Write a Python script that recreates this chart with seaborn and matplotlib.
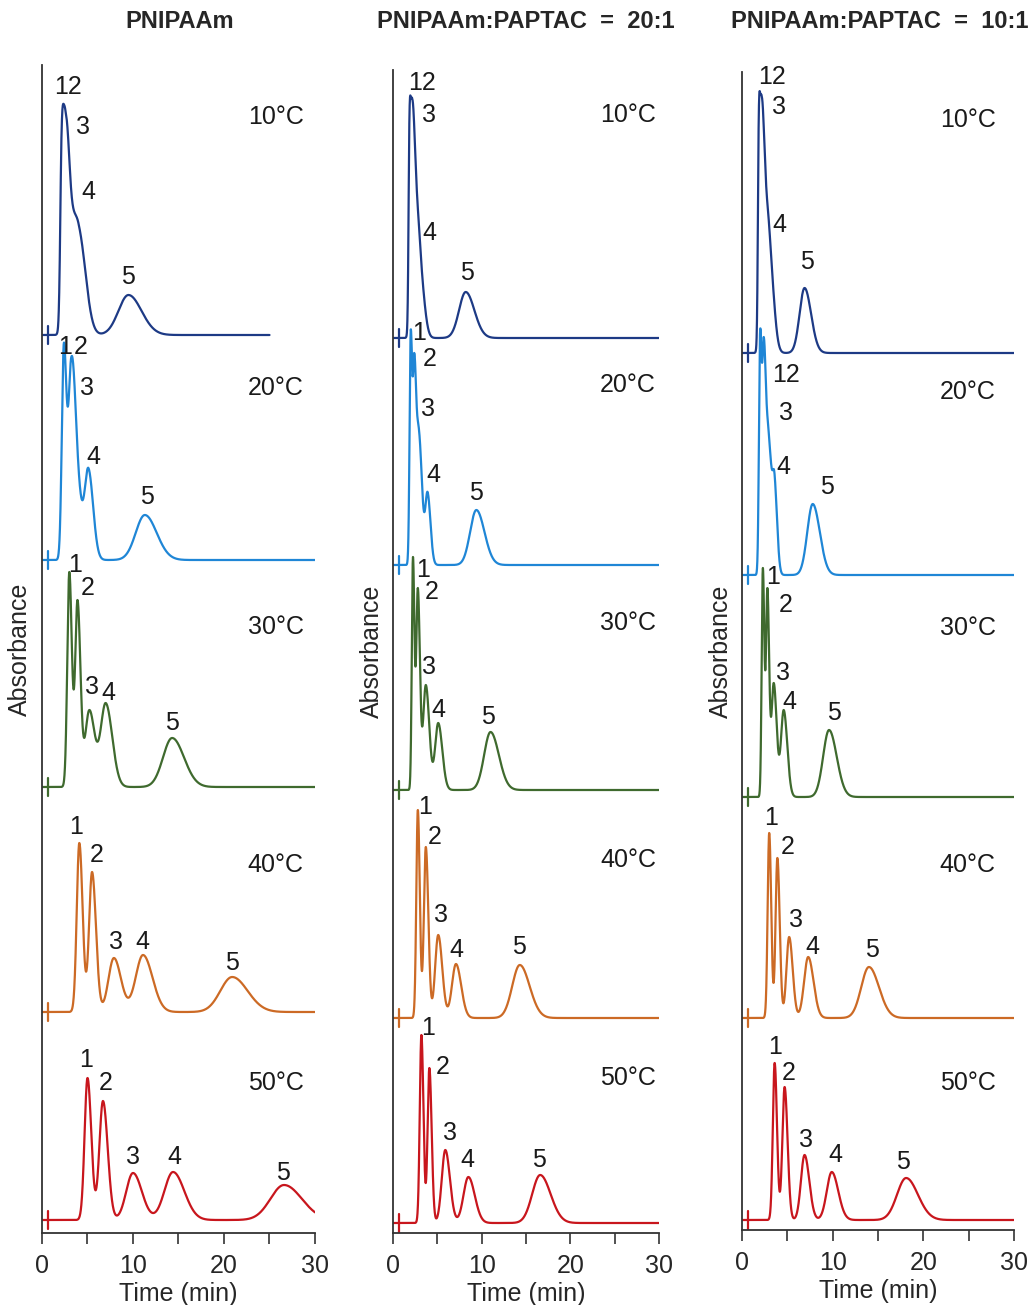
import numpy as np
import pandas as pd
import matplotlib
matplotlib.use("Agg")
import matplotlib.pyplot as plt
import seaborn as sns

# ---- data (times in min, heights in a.u. above each trace baseline) ----
temp_labels = ["10°C", "20°C", "30°C", "40°C", "50°C"]
trace_colors = ["#1d3a85", "#1f86d6", "#3f6a2e", "#cc6a25", "#c8161d"]
column_titles = ["PNIPAAm", "PNIPAAm:PAPTAC  =  20:1", "PNIPAAm:PAPTAC  =  10:1"]

# PNIPAAm
pn_rt = [[2.15, 2.55, 3.1, 4.0, 9.5],
         [2.4, 3.2, 3.8, 5.1, 11.3],
         [3.0, 3.9, 5.2, 7.0, 14.3],
         [4.1, 5.5, 7.9, 11.1, 20.9],
         [5.0, 6.7, 10.0, 14.4, 26.6]]
pn_height = [[20.3, 22.6, 16.0, 11.2, 4.0],
             [21.7, 20.2, 13.0, 9.2, 4.5],
             [21.5, 18.7, 7.7, 8.4, 4.9],
             [16.9, 14.0, 5.4, 5.7, 3.5],
             [14.2, 11.9, 4.7, 4.8, 3.5]]
pn_sigma = [[0.15, 0.28, 0.35, 0.6, 1.1],
            [0.22, 0.3, 0.4, 0.4, 1.0],
            [0.22, 0.25, 0.45, 0.55, 1.0],
            [0.28, 0.33, 0.6, 0.8, 1.3],
            [0.32, 0.4, 0.75, 0.95, 1.5]]
pn_baseline = [89.8, 67.3, 44.6, 22.1, 1.3]
pn_end = [25, 30, 30, 30, 30]
pn_lbl_text = [["12", "3", "4", "5"], ["1", "2", "3", "4", "5"], ["1", "2", "3", "4", "5"],
               ["1", "2", "3", "4", "5"], ["1", "2", "3", "4", "5"]]
pn_lbl_t = [[2.9, 4.5, 5.1, 9.5], [2.5, 4.3, 5.0, 5.6, 11.5], [3.6, 5.0, 5.5, 7.3, 14.3],
            [3.7, 6.0, 8.1, 11.0, 20.9], [4.8, 7.0, 10.0, 14.5, 26.5]]
pn_lbl_y = [[114.6, 110.6, 104.1, 95.6], [88.6, 88.6, 84.5, 77.6, 73.6],
            [66.8, 64.5, 54.6, 54.0, 51.0], [40.6, 37.8, 29.1, 29.1, 27.0],
            [17.3, 15.0, 7.6, 7.6, 6.0]]
pn_temp_t = 25.7
pn_temp_y = [111.6, 84.5, 60.6, 36.8, 15.0]

# PNIPAAm:PAPTAC = 20:1
p20_rt = [[1.85, 2.15, 2.6, 3.1, 8.2],
          [2.0, 2.4, 2.9, 3.9, 9.4],
          [2.25, 2.8, 3.7, 5.1, 11.0],
          [2.8, 3.7, 5.1, 7.1, 14.3],
          [3.2, 4.1, 5.9, 8.5, 16.6]]
p20_height = [[22.0, 24.0, 16.5, 8.8, 4.6],
              [23.5, 21.2, 13.8, 7.3, 5.5],
              [23.3, 20.2, 10.5, 6.7, 5.8],
              [20.8, 17.1, 8.3, 5.4, 5.3],
              [18.8, 15.5, 7.3, 4.6, 4.8]]
p20_sigma = [[0.1, 0.2, 0.25, 0.35, 0.75],
             [0.13, 0.15, 0.28, 0.25, 0.7],
             [0.13, 0.18, 0.3, 0.35, 0.72],
             [0.17, 0.22, 0.35, 0.45, 0.85],
             [0.18, 0.2, 0.4, 0.55, 0.9]]
p20_baseline = [89.5, 66.8, 44.3, 21.5, 1.0]
p20_end = [30, 30, 30, 30, 30]
p20_lbl_text = [["12", "3", "4", "5"], ["1", "2", "3", "4", "5"], ["1", "2", "3", "4", "5"],
                ["1", "2", "3", "4", "5"], ["1", "2", "3", "4", "5"]]
p20_lbl_t = [[3.3, 4.1, 4.1, 8.3], [2.9, 4.1, 3.9, 4.6, 9.4], [3.4, 4.4, 4.1, 5.1, 10.7],
             [3.6, 4.7, 5.4, 7.1, 14.2], [3.9, 5.6, 6.4, 8.4, 16.5]]
p20_lbl_y = [[115.0, 111.8, 100.0, 96.0], [90.0, 87.4, 82.4, 75.8, 74.0],
             [66.3, 64.1, 56.6, 52.3, 51.6], [42.6, 39.6, 31.8, 28.3, 28.6],
             [20.5, 16.6, 10.0, 7.3, 7.3]]
p20_temp_t = 26.5
p20_temp_y = [111.8, 84.8, 61.0, 37.3, 15.5]

# PNIPAAm:PAPTAC = 10:1
p10_rt = [[1.85, 2.15, 2.6, 3.1, 6.9],
          [2.0, 2.4, 2.9, 3.6, 7.8],
          [2.3, 2.8, 3.5, 4.6, 9.6],
          [3.0, 3.9, 5.2, 7.3, 14.0],
          [3.6, 4.7, 6.9, 9.9, 18.1]]
p10_height = [[23.8, 25.8, 18.0, 11.3, 6.5],
              [24.5, 23.8, 14.8, 10.0, 7.1],
              [22.9, 20.9, 11.4, 8.7, 6.7],
              [18.5, 16.0, 8.1, 6.1, 5.1],
              [15.7, 13.3, 6.5, 4.8, 4.2]]
p10_sigma = [[0.1, 0.2, 0.25, 0.35, 0.55],
             [0.13, 0.16, 0.28, 0.22, 0.6],
             [0.13, 0.15, 0.25, 0.3, 0.65],
             [0.17, 0.2, 0.3, 0.45, 0.85],
             [0.2, 0.25, 0.4, 0.55, 1.0]]
p10_baseline = [87.7, 65.5, 43.3, 21.2, 1.0]
p10_end = [30, 30, 30, 30, 30]
p10_lbl_text = [["12", "3", "4", "5"], ["12", "3", "4", "5"], ["1", "2", "3", "4", "5"],
                ["1", "2", "3", "4", "5"], ["1", "2", "3", "4", "5"]]
p10_lbl_t = [[3.3, 4.1, 4.1, 7.2], [4.9, 4.8, 4.6, 9.4], [3.4, 4.8, 4.5, 5.2, 10.1],
             [3.2, 5.0, 6.0, 7.8, 14.3], [3.6, 5.2, 7.1, 10.3, 17.8]]
p10_lbl_y = [[115.3, 112.3, 100.5, 96.8], [85.5, 81.7, 76.3, 74.3],
             [65.3, 62.5, 55.7, 52.8, 51.7], [41.2, 38.3, 31.0, 28.3, 28.0],
             [18.3, 15.7, 9.0, 7.5, 6.8]]
p10_temp_t = 24.9
p10_temp_y = [111.0, 83.8, 60.2, 36.5, 14.7]

INJECT_T = 0.65
TAIL = 1.3  # right-side width factor of each peak


def peak_shape(t, mu, s):
    s_eff = np.where(t < mu, s, s * TAIL)
    return np.exp(-0.5 * ((t - mu) / s_eff) ** 2)


def trace(rt, heights, sigmas, t_end):
    rt = np.asarray(rt, float)
    sig = np.asarray(sigmas, float)
    # amplitudes such that the summed curve passes through the read apex heights
    m = np.array([[peak_shape(np.array(ti), mu, s) for mu, s in zip(rt, sig)] for ti in rt])
    amp = np.clip(np.linalg.solve(m, np.asarray(heights, float)), 0, None)
    t = np.linspace(0, t_end, 3000)
    y = sum(a * peak_shape(t, mu, s) for a, mu, s in zip(amp, rt, sig))
    return t, y


columns = [
    dict(rt=pn_rt, h=pn_height, s=pn_sigma, base=pn_baseline, end=pn_end, lt=pn_lbl_text,
         lx=pn_lbl_t, ly=pn_lbl_y, tt=pn_temp_t, ty=pn_temp_y, box=(42, 315, 65, 1233)),
    dict(rt=p20_rt, h=p20_height, s=p20_sigma, base=p20_baseline, end=p20_end, lt=p20_lbl_text,
         lx=p20_lbl_t, ly=p20_lbl_y, tt=p20_temp_t, ty=p20_temp_y, box=(393, 659, 70, 1233)),
    dict(rt=p10_rt, h=p10_height, s=p10_sigma, base=p10_baseline, end=p10_end, lt=p10_lbl_text,
         lx=p10_lbl_t, ly=p10_lbl_y, tt=p10_temp_t, ty=p10_temp_y, box=(742, 1014, 72, 1230)),
]
title_x = [180, 526, 880]

sns.set_style("white")
plt.rcParams["font.family"] = ["Liberation Sans", "DejaVu Sans"]

W, H = 1031, 1305
fig = plt.figure(figsize=(W / 100, H / 100), dpi=100)

for ci, col in enumerate(columns):
    left, right, top, bottom = col["box"]
    ax = fig.add_axes([left / W, (H - bottom) / H, (right - left) / W, (bottom - top) / H])
    for k in range(5):
        t, y = trace(col["rt"][k], col["h"][k], col["s"][k], col["end"][k])
        df = pd.DataFrame({"time": t, "absorbance": y + col["base"][k]})
        sns.lineplot(data=df, x="time", y="absorbance", ax=ax, color=trace_colors[k],
                     linewidth=1.6, estimator=None, sort=False)
        ax.plot([INJECT_T, INJECT_T], [col["base"][k] - 0.9, col["base"][k] + 0.9],
                color=trace_colors[k], linewidth=1.6)
        for txt, lx, ly in zip(col["lt"][k], col["lx"][k], col["ly"][k]):
            ax.text(lx, ly, txt, ha="center", va="center", fontsize=18, color="#1a1a1a")
        ax.text(col["tt"], col["ty"][k], temp_labels[k], ha="center", va="center",
                fontsize=18, color="#1a1a1a")

    ax.set_xlim(0, 30)
    ax.set_ylim(0, (bottom - top) / 10)
    ax.set_xticks([0, 10, 20, 30])
    ax.set_xticks([5, 15, 25], minor=True)
    ax.set_yticks([])
    ax.tick_params(axis="x", which="both", direction="out", length=8, width=1.2,
                   color="#333333", labelsize=18, pad=7, bottom=True)
    for side in ["top", "right"]:
        ax.spines[side].set_visible(False)
    for side in ["left", "bottom"]:
        ax.spines[side].set_color("#333333")
        ax.spines[side].set_linewidth(1.3)
    ax.set_xlabel("Time (min)", fontsize=18, labelpad=3)
    ax.set_ylabel("Absorbance", fontsize=18)
    ax.yaxis.set_label_coords(-0.035, 0.5)
    ax.set_facecolor("white")
    fig.text(title_x[ci] / W, 1 - 22 / H, column_titles[ci], ha="center", va="center",
             fontsize=17, fontweight="bold")

fig.savefig("out.png", dpi=100, facecolor="white")
